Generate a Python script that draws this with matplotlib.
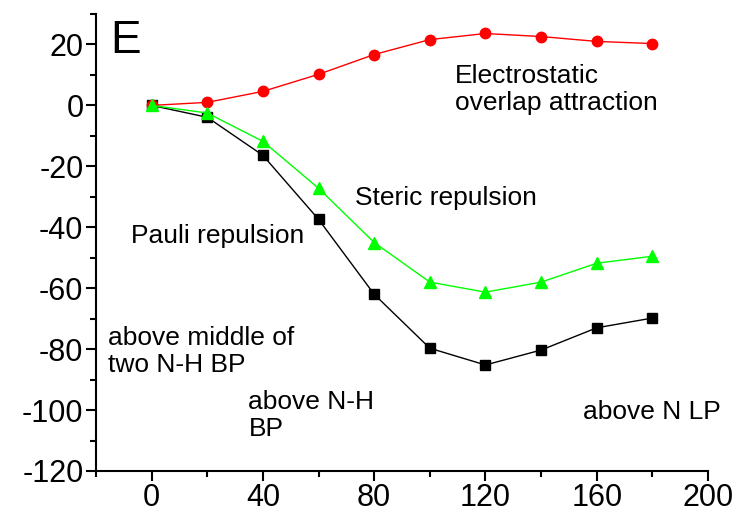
import matplotlib.pyplot as plt
from matplotlib.ticker import MultipleLocator

plt.rcParams['font.family'] = ['Liberation Sans', 'DejaVu Sans']
plt.rcParams['axes.unicode_minus'] = False

angle = [0, 20, 40, 60, 80, 100, 120, 140, 160, 180]
electrostatic = [0, 1, 4.6, 10.2, 16.7, 21.6, 23.6, 22.6, 21, 20.3]
steric = [0, -2.5, -11.8, -27.2, -45, -58, -61.3, -58, -51.8, -49.5]
pauli = [0, -3.9, -16.4, -37.4, -62, -79.7, -85.2, -80.3, -73, -69.8]

fig = plt.figure(figsize=(7.39, 5.15), dpi=100)
ax = fig.add_axes([96/739, 44/515, 612/739, 457/515])

ax.plot(angle, pauli, color='black', lw=1, marker='s', ms=6.5, zorder=3)
ax.plot(angle, electrostatic, color='red', lw=1, marker='o', ms=7.5, zorder=4)
ax.plot(angle, steric, color='#00ff00', lw=1, marker='^', ms=8, zorder=5)

ax.set_xlim(-20, 200)
ax.set_ylim(-120, 30)
ax.xaxis.set_major_locator(MultipleLocator(40))
ax.xaxis.set_minor_locator(MultipleLocator(20))
ax.yaxis.set_major_locator(MultipleLocator(20))
ax.yaxis.set_minor_locator(MultipleLocator(10))
ax.set_xticks([0, 40, 80, 120, 160, 200])
ax.spines['top'].set_visible(False)
ax.spines['right'].set_visible(False)
for s in ['left', 'bottom']:
    ax.spines[s].set_linewidth(1.5)
ax.tick_params(which='major', direction='out', length=7, width=1.5, labelsize=22, pad=2)
ax.tick_params(which='minor', direction='out', length=4, width=1.5)

fs = 19
ax.text(-14.7, 21.3, 'E', fontsize=33, va='center', ha='left')
ax.text(109, 13.5, 'Electrostatic\noverlap attraction', fontsize=fs, va='top', ha='left', linespacing=1.15)
ax.text(73.2, -30.5, 'Steric repulsion', fontsize=fs, va='center', ha='left')
ax.text(-7.5, -43, 'Pauli repulsion', fontsize=fs, va='center', ha='left')
ax.text(-15.8, -72.5, 'above middle of\ntwo N-H BP', fontsize=fs, va='top', ha='left', linespacing=1.15)
ax.text(34.8, -93.5, 'above N-H\nBP', fontsize=fs, va='top', ha='left', linespacing=1.15)
ax.text(155, -100.7, 'above N LP', fontsize=fs, va='center', ha='left')

fig.savefig('out.png', dpi=100)
